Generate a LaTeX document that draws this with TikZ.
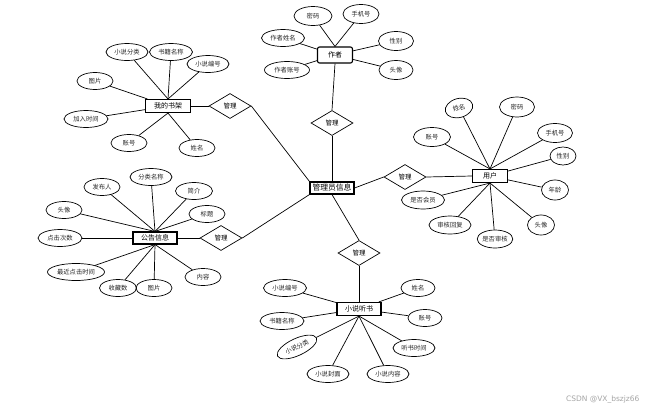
\documentclass[tikz,border=0pt]{standalone}
\usepackage{fontspec}
\setmainfont{Liberation Serif}
\newfontfamily\cjk{Noto Sans CJK SC}
\usetikzlibrary{shapes.geometric}
\begin{document}
\begin{tikzpicture}[x=1pt,y=-1pt,
  attr/.style={ellipse,draw,line width=0.7pt,inner sep=0pt,minimum width=36pt,minimum height=17pt,font=\cjk\fontsize{6.3}{7}\selectfont,text=black!85},
  ent/.style={rectangle,draw,line width=1.1pt,inner sep=0pt,minimum width=44pt,minimum height=13pt,font=\cjk\fontsize{7}{8}\selectfont},
  rel/.style={diamond,draw,line width=0.7pt,inner sep=0pt,aspect=1.68,minimum width=42pt,minimum height=25pt,font=\cjk\fontsize{6.5}{7}\selectfont},
  conn/.style={draw,line width=0.7pt}]
\useasboundingbox[fill=white] (0,0) rectangle (651,413);

% central entity
\node[ent,minimum width=44pt,minimum height=12pt,font=\cjk\fontsize{7.8}{9}\selectfont] (admin) at (332,188) {管理员信息};

% relations
\node[rel] (d1) at (230,106) {管理};
\node[rel] (d2) at (332,123) {管理};
\node[rel] (d3) at (405,177) {管理};
\node[rel] (d4) at (359,253) {管理};
\node[rel] (d5) at (221,238) {管理};

% entities
\node[ent,minimum width=45pt] (shelf) at (168,106) {我的书架};
\node[ent,rounded corners=2pt,minimum width=35pt,minimum height=16pt] (author) at (335,55) {作者};
\node[ent,minimum width=35pt,minimum height=13pt] (user) at (490,176) {用户};
\node[ent,minimum height=12pt] (notice) at (155,238) {公告信息};
\node[ent] (novel) at (359,309) {小说听书};

% shelf attributes
\node[attr,minimum width=42pt] (s1) at (127,52) {小说分类};
\node[attr,minimum width=43pt] (s2) at (171,52) {书籍名称};
\node[attr,minimum width=42pt] (s3) at (208,64) {小说编号};
\node[attr] (s4) at (95,81) {图片};
\node[attr,minimum width=44pt] (s5) at (86,119) {加入时间};
\node[attr] (s6) at (129,143) {账号};
\node[attr] (s7) at (197,148) {姓名};
\foreach \a in {s1,s2,s3} \draw[conn] (shelf.north) -- (\a);
\foreach \a in {s4,s5} \draw[conn] (shelf) -- (\a);
\foreach \a in {s6,s7} \draw[conn] (shelf.south) -- (\a);

% author attributes
\node[attr,minimum width=38pt,minimum height=19pt] (a1) at (313,16) {密码};
\node[attr,minimum width=36pt,minimum height=19pt] (a2) at (361,14) {手机号};
\node[attr,minimum width=43pt] (a3) at (283,38) {作者姓名};
\node[attr,minimum width=45pt] (a4) at (287,70) {作者账号};
\node[attr,minimum width=35pt,minimum height=19pt] (a5) at (396,41) {性别};
\node[attr,minimum width=34pt,minimum height=19pt] (a6) at (396,70) {头像};
\foreach \a in {a1,a2} \draw[conn] (author.north) -- (\a);
\foreach \a in {a3,a4,a5,a6} \draw[conn] (author) -- (\a);

% user attributes
\node[attr,minimum width=28pt,minimum height=19pt,rotate=15] (u1) at (459,108) {姓名};
\node[attr,minimum width=35pt,minimum height=20pt] (u2) at (517,107) {密码};
\node[attr,minimum width=35pt,minimum height=19pt] (u3) at (555,133) {手机号};
\node[attr,minimum width=26pt,minimum height=18pt] (u4) at (563,156) {性别};
\node[attr,minimum width=27pt,minimum height=20pt] (u5) at (555,190) {年龄};
\node[attr,minimum width=27pt,minimum height=20pt] (u6) at (541,225) {头像};
\node[attr,minimum width=34pt,minimum height=18pt] (u7) at (495,239) {是否审核};
\node[attr,minimum width=42pt,minimum height=18pt] (u8) at (450,225) {审核回复};
\node[attr,minimum width=43pt,minimum height=18pt] (u9) at (423,200) {是否会员};
\node[attr,minimum width=37pt,minimum height=19pt] (u10) at (432,137) {账号};
\foreach \a in {u1,u2,u3,u10} \draw[conn] (user.north) -- (\a);
\foreach \a in {u4,u5} \draw[conn] (user) -- (\a);
\foreach \a in {u6,u7,u8,u9} \draw[conn] (user.south) -- (\a);

% notice attributes
\node[attr,minimum width=42pt] (n1) at (151,177) {分类名称};
\node[attr] (n2) at (102,187) {发布人};
\node[attr,minimum width=37pt] (n3) at (194,191) {简介};
\node[attr] (n4) at (64,210) {头像};
\node[attr] (n5) at (207,214) {标题};
\node[attr,minimum width=44pt] (n6) at (60,238) {点击次数};
\node[attr,minimum width=57pt] (n7) at (76,272) {最近点击时间};
\node[attr,minimum width=37pt] (n8) at (118,288) {收藏数};
\node[attr] (n9) at (154,288) {图片};
\node[attr] (n10) at (203,277) {内容};
\foreach \a in {n1,n2,n3,n4,n5} \draw[conn] (notice.north) -- (\a);
\draw[conn] (notice) -- (n6);
\foreach \a in {n7,n8,n9,n10} \draw[conn] (notice.south) -- (\a);

% novel attributes
\node[attr,minimum width=43pt] (v1) at (285,288) {小说编号};
\node[attr,minimum width=44pt] (v2) at (282,321) {书籍名称};
\node[attr,minimum width=43pt,rotate=25] (v3) at (297,347) {小说分类};
\node[attr,minimum width=42pt] (v4) at (328,374) {小说封面};
\node[attr,minimum width=42pt] (v5) at (388,374) {小说内容};
\node[attr,minimum width=34pt] (v6) at (418,288) {姓名};
\node[attr,minimum width=34pt] (v7) at (425,318) {账号};
\node[attr,minimum width=42pt] (v8) at (414,348) {听书时间};
\foreach \a in {v1,v2,v6,v7} \draw[conn] (novel) -- (\a);
\foreach \a in {v3,v4,v5,v8} \draw[conn] (novel.south) -- (\a);

% relation connectors
\draw[conn] (shelf) -- (d1.west);
\draw[conn] (d1.east) -- (admin.north west);
\draw[conn] (author.south) -- (d2.north);
\draw[conn] (d2.south) -- (admin.north);
\draw[conn] (admin.east) -- (d3.west);
\draw[conn] (d3.east) -- (user.west);
\draw[conn] (admin.south) -- (d4.north);
\draw[conn] (d4.south) -- (novel.north);
\draw[conn] (notice.east) -- (d5.west);
\draw[conn] (d5.east) -- (admin.south west);

% watermark
\node[font=\fontspec{DejaVu Sans}\fontsize{7.5}{9}\selectfont,text=black!35,anchor=east] (wm) at (643,400) {CSDN @VX\_bszjz66};
\end{tikzpicture}
\end{document}
